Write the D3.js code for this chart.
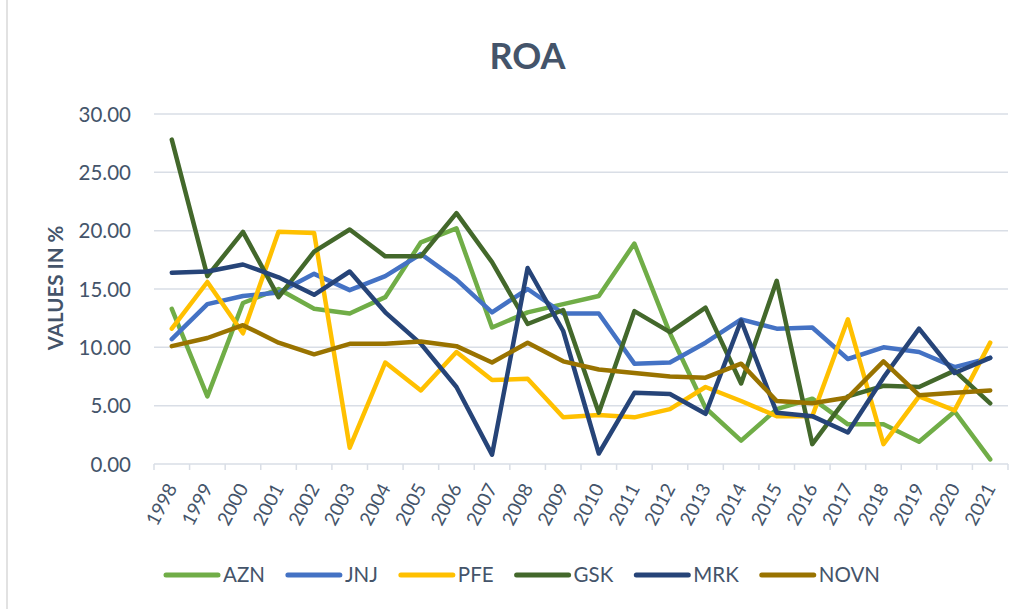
<!DOCTYPE html>
<html>
<head>
<meta charset="utf-8">
<script src="https://cdn.jsdelivr.net/npm/d3@7/dist/d3.min.js"></script>
<style>
  html, body { margin: 0; padding: 0; background: #ffffff; }
  svg { display: block; font-family: Lato, "Open Sans", sans-serif; }
</style>
</head>
<body>
<svg id="chart" width="1025" height="609"></svg>
<script>
const years = ["1998","1999","2000","2001","2002","2003","2004","2005","2006","2007","2008","2009","2010","2011","2012","2013","2014","2015","2016","2017","2018","2019","2020","2021"];
const AZN  = [13.3, 5.8, 13.8, 15.0, 13.3, 12.9, 14.3, 19.0, 20.2, 11.7, 13.0, 13.7, 14.4, 18.9, 11.2, 4.8, 2.0, 4.7, 5.6, 3.4, 3.4, 1.9, 4.5, 0.4];
const JNJ  = [10.7, 13.7, 14.4, 14.7, 16.3, 14.9, 16.1, 18.0, 15.8, 13.0, 15.0, 12.9, 12.9, 8.6, 8.7, 10.4, 12.4, 11.6, 11.7, 9.0, 10.0, 9.6, 8.3, 9.1];
const PFE  = [11.6, 15.6, 11.2, 19.9, 19.8, 1.4, 8.7, 6.3, 9.6, 7.2, 7.3, 4.0, 4.2, 4.0, 4.7, 6.6, 5.4, 4.1, 4.1, 12.4, 1.7, 5.8, 4.6, 10.4];
const GSK  = [27.8, 16.1, 19.9, 14.3, 18.2, 20.1, 17.8, 17.8, 21.5, 17.3, 12.0, 13.2, 4.4, 13.1, 11.3, 13.4, 6.9, 15.7, 1.7, 5.8, 6.7, 6.6, 8.0, 5.2];
const MRK  = [16.4, 16.5, 17.1, 16.0, 14.5, 16.5, 13.0, 10.3, 6.6, 0.8, 16.8, 11.4, 0.9, 6.1, 6.0, 4.3, 12.3, 4.4, 4.1, 2.7, 7.4, 11.6, 7.8, 9.1];
const NOVN = [10.1, 10.8, 11.9, 10.4, 9.4, 10.3, 10.3, 10.5, 10.1, 8.7, 10.4, 8.8, 8.1, 7.8, 7.5, 7.4, 8.6, 5.4, 5.2, 5.7, 8.8, 5.9, 6.1, 6.3];
const seriesNames = ["AZN", "JNJ", "PFE", "GSK", "MRK", "NOVN"];
const seriesColors = ["#70AD47", "#4472C4", "#FFC000", "#43682B", "#264478", "#997300"];
const yTicks = [0, 5, 10, 15, 20, 25, 30];
const title = "ROA";
const yTitle = "VALUES IN %";

const seriesValues = [AZN, JNJ, PFE, GSK, MRK, NOVN];
const series = seriesNames.map((n, i) => ({ name: n, color: seriesColors[i], values: seriesValues[i] }));

const svg = d3.select("#chart");
const textColor = "#44546A";
const gridColor = "#D9DEE6";

// outer border (left edge visible)
svg.append("line").attr("x1", 7).attr("x2", 7).attr("y1", 0).attr("y2", 609)
  .attr("stroke", "#D9D9D9").attr("stroke-width", 1.5);

const x = d3.scaleBand().domain(years).range([154, 1008]);
const y = d3.scaleLinear().domain([0, 30]).range([464, 114]);

// gridlines
svg.append("g").selectAll("line").data(yTicks.filter(t => t > 0)).join("line")
  .attr("x1", 154).attr("x2", 1008)
  .attr("y1", d => y(d)).attr("y2", d => y(d))
  .attr("stroke", gridColor).attr("stroke-width", 1.5);

// y axis labels
const yAxis = d3.axisLeft(y).tickValues(yTicks).tickFormat(d3.format(".2f")).tickSize(0).tickPadding(0);
const gy = svg.append("g").attr("transform", "translate(131,0)").call(yAxis);
gy.select(".domain").remove();
gy.selectAll("text").attr("fill", textColor).attr("font-size", "20.5px")
  .attr("font-family", "Lato, sans-serif").attr("dy", "0.35em");

// x axis line and boundary ticks
svg.append("line").attr("x1", 154).attr("x2", 1008).attr("y1", y(0)).attr("y2", y(0))
  .attr("stroke", gridColor).attr("stroke-width", 1.5);
const bounds = years.map(d => x(d)).concat([x.range()[1]]);
svg.append("g").selectAll("line").data(bounds).join("line")
  .attr("x1", d => d).attr("x2", d => d).attr("y1", y(0)).attr("y2", y(0) + 6)
  .attr("stroke", gridColor).attr("stroke-width", 1.5);

// x labels
const xAxis = d3.axisBottom(x).tickSize(0).tickPadding(0);
const gx = svg.append("g").attr("transform", `translate(0,${y(0)})`).call(xAxis);
gx.select(".domain").remove();
gx.selectAll("text")
  .attr("fill", textColor).attr("font-size", "19px").attr("font-family", "Lato, sans-serif")
  .attr("text-anchor", "end").attr("dy", null).attr("y", 0)
  .attr("transform", "translate(6,24) rotate(-62)");

// lines
const line = d3.line()
  .x((d, i) => x(years[i]) + x.bandwidth() / 2)
  .y(d => y(d));
svg.append("g").selectAll("path").data(series).join("path")
  .attr("d", d => line(d.values))
  .attr("fill", "none").attr("stroke", d => d.color)
  .attr("stroke-width", 4.5).attr("stroke-linejoin", "round").attr("stroke-linecap", "round");

// title
svg.append("text").attr("x", 527.5).attr("y", 69).attr("text-anchor", "middle")
  .attr("font-size", "36px").attr("font-weight", "bold").attr("fill", textColor).text(title);

// y title
svg.append("text").attr("transform", "translate(63,288) rotate(-90)").attr("text-anchor", "middle")
  .attr("font-size", "20.5px").attr("font-weight", "bold").attr("fill", textColor).text(yTitle);

// legend
const leg = svg.append("g");
let cx = 0;
series.forEach(s => {
  const g = leg.append("g").attr("transform", `translate(${cx},0)`);
  g.append("line").attr("x1", 2).attr("x2", 54).attr("y1", 0).attr("y2", 0)
    .attr("stroke", s.color).attr("stroke-width", 5).attr("stroke-linecap", "round");
  const t = g.append("text").attr("x", 59).attr("y", 0).attr("dy", "0.35em")
    .attr("font-size", "20.5px").attr("fill", textColor).text(s.name);
  const w = t.node().getComputedTextLength();
  cx += 59 + w + 21;
});
leg.attr("transform", `translate(${164},575)`);
</script>
</body>
</html>
